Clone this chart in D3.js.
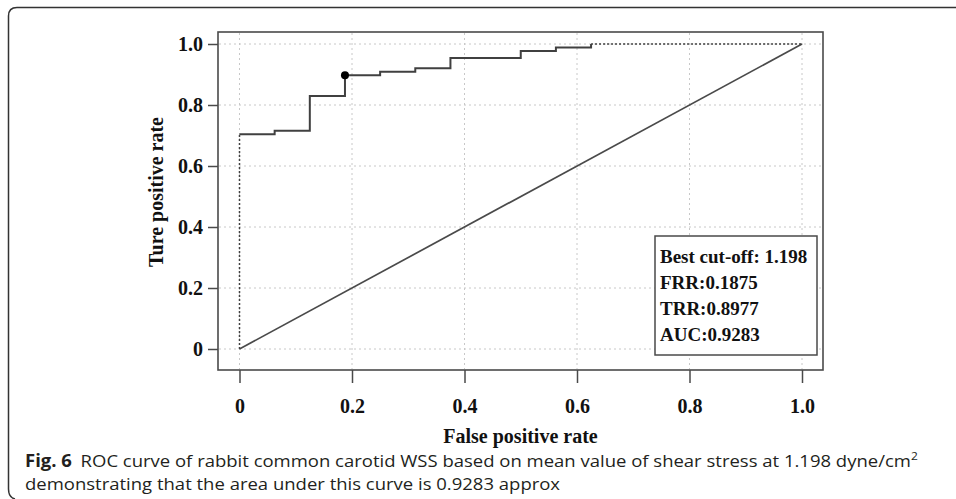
<!DOCTYPE html>
<html>
<head>
<meta charset="utf-8">
<script src="https://cdn.jsdelivr.net/npm/d3@7"></script>
<style>
  html, body { margin: 0; padding: 0; background: #fff; }
  svg { display: block; }
</style>
</head>
<body>
<svg id="chart" width="956" height="499"></svg>
<script>
// ---- data ----
const fpr = [0, 0.0625, 0.125, 0.1875, 0.25, 0.3125, 0.375, 0.5, 0.5625, 0.625];
const tpr = [0.7045, 0.7159, 0.8295, 0.8977, 0.9091, 0.9205, 0.9545, 0.9773, 0.9886, 1.0];
const bestCut = { fpr: 0.1875, tpr: 0.8977 };
const xTicks = [0, 0.2, 0.4, 0.6, 0.8, 1.0];
const yTicks = [0, 0.2, 0.4, 0.6, 0.8, 1.0];
const tickLabels = ["0", "0.2", "0.4", "0.6", "0.8", "1.0"];
const legendLines = ["Best cut-off: 1.198", "FRR:0.1875", "TRR:0.8977", "AUC:0.9283"];
const xTitle = "False positive rate";
const yTitle = "Ture positive rate";
const captionBold = "Fig. 6";
const captionLine1 = "ROC curve of rabbit common carotid WSS based on mean value of shear stress at 1.198 dyne/cm";
const captionSup = "2";
const captionLine2 = "demonstrating that the area under this curve is 0.9283 approx";

const svg = d3.select("#chart");
const serif = "'Liberation Serif', 'DejaVu Serif', serif";
const sans = "'Open Sans', 'Noto Sans', sans-serif";

// outer figure frame (rounded, open on the right and bottom)
svg.append("path")
  .attr("d", "M956,7.5 L17,7.5 Q8.5,7.5 8.5,16 L8.5,489 Q8.5,497.5 15,499")
  .attr("fill", "none").attr("stroke", "#333").attr("stroke-width", 1.5);

const frame = { l: 218, r: 823, t: 32, b: 370 };
const x = d3.scaleLinear().domain([0, 1]).range([239.5, 802]);
const y = d3.scaleLinear().domain([0, 1]).range([349, 44]);

// grid
const grid = svg.append("g");
grid.selectAll("line.gx").data(xTicks).join("line")
  .attr("x1", d => x(d)).attr("x2", d => x(d))
  .attr("y1", frame.t + 1).attr("y2", frame.b - 1)
  .attr("stroke", "#c8c8c8").attr("stroke-width", 1).attr("stroke-dasharray", "2,3");
grid.selectAll("line.gy").data(yTicks).join("line")
  .attr("y1", d => y(d)).attr("y2", d => y(d))
  .attr("x1", frame.l + 1).attr("x2", frame.r - 1)
  .attr("stroke", "#c8c8c8").attr("stroke-width", 1).attr("stroke-dasharray", "2,3");

// frame
svg.append("rect")
  .attr("x", frame.l).attr("y", frame.t)
  .attr("width", frame.r - frame.l).attr("height", frame.b - frame.t)
  .attr("fill", "none").attr("stroke", "#4a4a4a").attr("stroke-width", 1.6);

// axes
const xAxis = d3.axisBottom(x).tickValues(xTicks).tickSize(13)
  .tickFormat((d, i) => tickLabels[i]).tickPadding(16);
const gx = svg.append("g").attr("transform", `translate(0,${frame.b})`).call(xAxis);
gx.select(".domain").remove();
gx.selectAll(".tick line").attr("stroke", "#4a4a4a").attr("stroke-width", 1.5);
gx.selectAll(".tick text").attr("font-family", serif).attr("font-weight", "bold")
  .attr("font-size", 20).attr("fill", "#111");

const yAxis = d3.axisLeft(y).tickValues(yTicks).tickSize(10)
  .tickFormat((d, i) => tickLabels[i]).tickPadding(5);
const gy = svg.append("g").attr("transform", `translate(${frame.l},0)`).call(yAxis);
gy.select(".domain").remove();
gy.selectAll(".tick line").attr("stroke", "#4a4a4a").attr("stroke-width", 1.5);
gy.selectAll(".tick text").attr("font-family", serif).attr("font-weight", "bold")
  .attr("font-size", 20).attr("fill", "#111");

// diagonal
svg.append("line")
  .attr("x1", x(0)).attr("y1", y(0)).attr("x2", x(1)).attr("y2", y(1))
  .attr("stroke", "#4a4a4a").attr("stroke-width", 1.7);

// ROC curve
const pts = fpr.map((f, i) => [f, tpr[i]]);
const stepLine = d3.line().x(d => x(d[0])).y(d => y(d[1])).curve(d3.curveStepAfter);
svg.append("path").datum(pts).attr("d", stepLine)
  .attr("fill", "none").attr("stroke", "#404040").attr("stroke-width", 2);
// dotted start and end segments
svg.append("line")
  .attr("x1", x(0)).attr("y1", y(0)).attr("x2", x(fpr[0])).attr("y2", y(tpr[0]))
  .attr("stroke", "#404040").attr("stroke-width", 1.5).attr("stroke-dasharray", "2,2");
svg.append("line")
  .attr("x1", x(fpr[fpr.length - 1])).attr("y1", y(tpr[tpr.length - 1]))
  .attr("x2", x(1)).attr("y2", y(1))
  .attr("stroke", "#404040").attr("stroke-width", 1.5).attr("stroke-dasharray", "2,2");

// best cut-off point
svg.append("circle").attr("cx", x(bestCut.fpr)).attr("cy", y(bestCut.tpr)).attr("r", 4)
  .attr("fill", "#000");

// legend box
svg.append("rect").attr("x", 655).attr("y", 236).attr("width", 162).attr("height", 119)
  .attr("fill", "#fff").attr("stroke", "#4a4a4a").attr("stroke-width", 1.5);
svg.append("g").selectAll("text").data(legendLines).join("text")
  .attr("x", 660).attr("y", (d, i) => 263 + i * 26)
  .attr("font-family", serif).attr("font-weight", "bold").attr("font-size", 19)
  .attr("fill", "#111").text(d => d);

// axis titles
svg.append("text").attr("x", (frame.l + frame.r) / 2).attr("y", 443)
  .attr("text-anchor", "middle").attr("font-family", serif).attr("font-weight", "bold")
  .attr("font-size", 20).attr("fill", "#111").text(xTitle);
svg.append("text").attr("transform", "translate(163,192) rotate(-90)")
  .attr("text-anchor", "middle").attr("font-family", serif).attr("font-weight", "bold")
  .attr("font-size", 20).attr("fill", "#111").text(yTitle);

// caption
const cap = svg.append("g").attr("fill", "#231f20").attr("font-family", sans).attr("font-size", 17);
const t1 = cap.append("text").attr("x", 0).attr("y", 0);
t1.append("tspan").attr("font-weight", "bold").text(captionBold);
t1.append("tspan").attr("dx", 8).text(captionLine1);
t1.append("tspan").attr("dy", -7).attr("font-size", 11).text(captionSup);
const t2 = cap.append("text").attr("x", 0).attr("y", 23).text(captionLine2);
const w1 = t1.node().getComputedTextLength();
const sx = (910 - 25) / w1;
cap.attr("transform", `translate(25,467) scale(${sx},1)`);
</script>
</body>
</html>
